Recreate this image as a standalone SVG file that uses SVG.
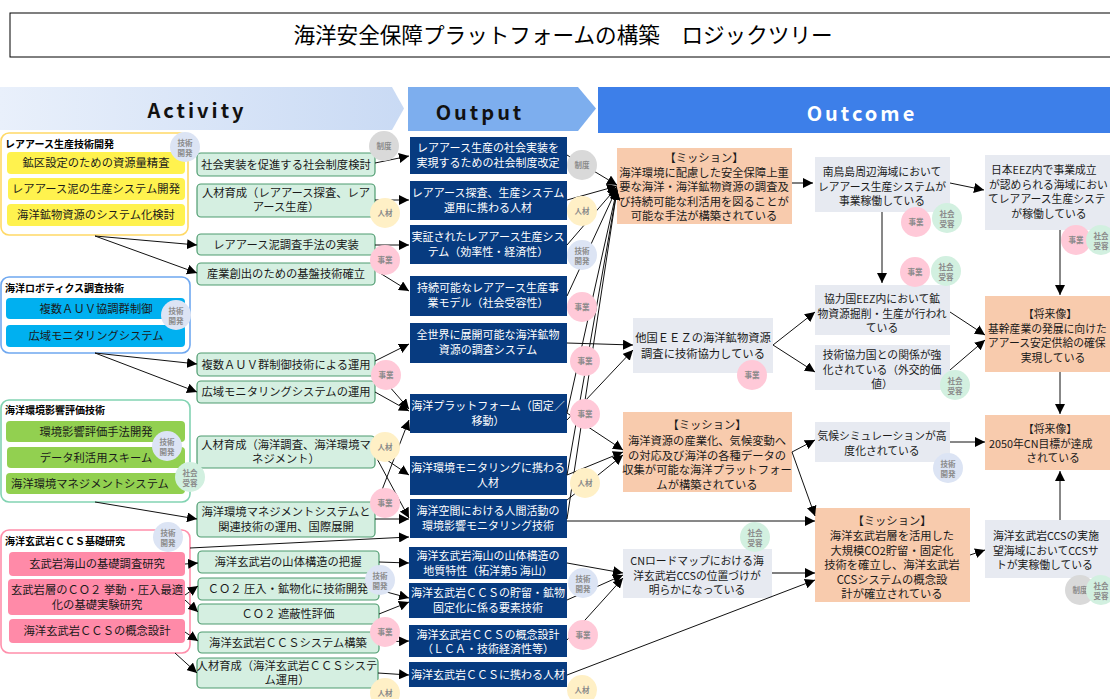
<svg xmlns="http://www.w3.org/2000/svg" width="1110" height="699" viewBox="0 0 1110 699">
<defs>
<marker id="ah" markerUnits="userSpaceOnUse" markerWidth="10" markerHeight="10" refX="10" refY="5" orient="auto"><path d="M0,0 L10,5 L0,10 z" fill="#000"/></marker>
<linearGradient id="gAct" x1="0" x2="1" y1="0" y2="0"><stop offset="0" stop-color="#E9F0FB"/><stop offset="1" stop-color="#C9DAF4"/></linearGradient>
</defs>
<style>
text{font-family:"Noto Sans CJK JP","Noto Sans",sans-serif;}
.t{font-size:11.3px;fill:#1a1a1a;text-anchor:middle}
.r{font-size:10.8px;fill:#1a1a1a;text-anchor:middle}
.rl{font-size:10.8px;fill:#1a1a1a;text-anchor:start}
.w{font-size:11px;fill:#fff;text-anchor:middle}
.gt{font-size:10px;font-weight:bold;fill:#000}
.bt{font-size:7.5px;font-weight:bold;fill:#8a8a8a;text-anchor:middle}
.grp{fill:#fff;stroke-width:1.6}
.mid{fill:#D5EFE1;stroke:#4F9C70;stroke-width:1.2}
.out{fill:#073B80}
.mis{fill:#F8CBAD}
.gry{fill:#E7EAF1}
.c{fill:none;stroke:#111;stroke-width:1;marker-end:url(#ah)}
.cg{fill:none;stroke:#7f7f7f;stroke-width:2;marker-end:url(#ah)}
.b1{fill:#DCE4F4}.b2{fill:#D9D9D9}.b3{fill:#FFF0C6}.b4{fill:#FFC9D8}.b5{fill:#D2F0E0}
</style>
<rect width="1110" height="699" fill="#fff"/>
<g id="title">
<rect x="10" y="13" width="1110" height="44" fill="#fff" stroke="#000" stroke-width="1"/>
<text x="563" y="43" style="font-size:21.6px;text-anchor:middle;fill:#000">海洋安全保障プラットフォームの構築　ロジックツリー</text>
</g>
<g id="headers">
<polygon points="0,87 392,87 404,108.5 392,130 0,130" fill="url(#gAct)"/>
<text x="197" y="118" style="font-size:20px;font-weight:bold;letter-spacing:3px;text-anchor:middle;fill:#111">Activity</text>
<polygon points="408,87 578,87 596,108.5 578,131 408,131" fill="#7DAEEE"/>
<text x="480" y="120" style="font-size:20px;font-weight:bold;letter-spacing:3px;text-anchor:middle;fill:#111">Output</text>
<rect x="598" y="87" width="512" height="46" fill="#3D7FE9"/>
<text x="862" y="121" style="font-size:20px;font-weight:bold;letter-spacing:3px;text-anchor:middle;fill:#fff">Outcome</text>
</g>
<g id="grp1">
<rect class="grp" x="1" y="133" width="187" height="102" rx="8" stroke="#FFD966"/>
<text class="gt" x="5" y="148">レアアース生産技術開発</text>
<rect x="7" y="152" width="178" height="22" rx="4" fill="#FFF24E"/>
<text class="t" x="96" y="167">鉱区設定のための資源量精査</text>
<rect x="8" y="178" width="177" height="22" rx="4" fill="#FFF24E"/>
<text class="t" x="96" y="193">レアアース泥の生産システム開発</text>
<rect x="7" y="204" width="178" height="22" rx="4" fill="#FFF24E"/>
<text class="t" x="96" y="219">海洋鉱物資源のシステム化検討</text>
</g>
<g id="grp2">
<rect class="grp" x="1" y="277" width="189" height="76" rx="8" stroke="#6FA8F0"/>
<text class="gt" x="5" y="292">海洋ロボティクス調査技術</text>
<rect x="6" y="298" width="179" height="21" rx="4" fill="#00B0F0"/>
<text class="t" x="96" y="313">複数ＡＵＶ協調群制御</text>
<rect x="6" y="325" width="179" height="22" rx="4" fill="#00B0F0"/>
<text class="t" x="96" y="340">広域モニタリングシステム</text>
</g>
<g id="grp3">
<rect class="grp" x="1" y="400" width="189" height="102" rx="8" stroke="#82D3B2"/>
<text class="gt" x="5" y="414">海洋環境影響評価技術</text>
<rect x="6" y="421" width="179" height="21" rx="4" fill="#92D050"/>
<text class="t" x="96" y="436">環境影響評価手法開発</text>
<rect x="7" y="447" width="178" height="21" rx="4" fill="#92D050"/>
<text class="t" x="96" y="462">データ利活用スキーム</text>
<rect x="6" y="473" width="179" height="21" rx="4" fill="#92D050"/>
<text class="t" x="90" y="488">海洋環境マネジメントシステム</text>
</g>
<g id="grp4">
<rect class="grp" x="1" y="530" width="189" height="123" rx="8" stroke="#FF8FAB"/>
<text class="gt" x="5" y="545">海洋玄武岩ＣＣＳ基礎研究</text>
<rect x="9" y="552" width="176" height="24" rx="4" fill="#FF8AA8"/>
<text class="t" x="97" y="568">玄武岩海山の基礎調査研究</text>
<rect x="8" y="579" width="177" height="36" rx="4" fill="#FF8AA8"/>
<text class="t" x="97" y="594">玄武岩層のＣＯ２ 挙動・圧入最適</text>
<text class="t" x="97" y="609">化の基礎実験研究</text>
<rect x="9" y="619" width="176" height="24" rx="4" fill="#FF8AA8"/>
<text class="t" x="97" y="635">海洋玄武岩ＣＣＳの概念設計</text>
</g>
<g id="activities">
<rect class="mid" x="197" y="153" width="178" height="23" rx="4"/>
<text class="t" x="286" y="169">社会実装を促進する社会制度検討</text>
<rect class="mid" x="197" y="184" width="178" height="33" rx="4"/>
<text class="t" x="286" y="197">人材育成（レアアース探査、レア</text>
<text class="t" x="286" y="211">アース生産）</text>
<rect class="mid" x="197" y="234" width="178" height="21" rx="4"/>
<text class="t" x="286" y="249">レアアース泥調査手法の実装</text>
<rect class="mid" x="197" y="263" width="178" height="22" rx="4"/>
<text class="t" x="286" y="278">産業創出のための基盤技術確立</text>
<rect class="mid" x="197" y="353" width="178" height="23" rx="4"/>
<text class="t" x="286" y="369">複数ＡＵＶ群制御技術による運用</text>
<rect class="mid" x="197" y="381" width="178" height="22" rx="4"/>
<text class="t" x="286" y="396">広域モニタリングシステムの運用</text>
<rect class="mid" x="197" y="436" width="178" height="32" rx="4"/>
<text class="t" x="286" y="449">人材育成（海洋調査、海洋環境マ</text>
<text class="t" x="286" y="463">ネジメント）</text>
<rect class="mid" x="197" y="502" width="178" height="35" rx="4"/>
<text class="t" x="286" y="516">海洋環境マネジメントシステムと</text>
<text class="t" x="286" y="531">関連技術の運用、国際展開</text>
<rect class="mid" x="198" y="551" width="181" height="22" rx="4"/>
<text class="t" x="288" y="566">海洋玄武岩の山体構造の把握</text>
<rect class="mid" x="198" y="578" width="181" height="22" rx="4"/>
<text class="t" x="288" y="593">ＣＯ２ 圧入・鉱物化に技術開発</text>
<rect class="mid" x="198" y="604" width="181" height="20" rx="4"/>
<text class="t" x="288" y="618">ＣＯ２ 遮蔽性評価</text>
<rect class="mid" x="198" y="632" width="181" height="21" rx="4"/>
<text class="t" x="288" y="647">海洋玄武岩ＣＣＳシステム構築</text>
<rect class="mid" x="197" y="658" width="181" height="30" rx="4"/>
<text class="t" x="287" y="670">人材育成（海洋玄武岩ＣＣＳシステ</text>
<text class="t" x="287" y="684">ム運用）</text>
</g>
<g id="outputs">
<rect class="out" x="410" y="137" width="157" height="37"/>
<text class="w" x="488" y="152">レアアース生産の社会実装を</text>
<text class="w" x="488" y="167">実現するための社会制度改定</text>
<rect class="out" x="410" y="181" width="157" height="39"/>
<text class="w" x="488" y="197">レアアース探査、生産システム</text>
<text class="w" x="488" y="212">運用に携わる人材</text>
<rect class="out" x="410" y="225" width="157" height="39"/>
<text class="w" x="488" y="241">実証されたレアアース生産シス</text>
<text class="w" x="488" y="256">テム（効率性・経済性）</text>
<rect class="out" x="410" y="276" width="157" height="40"/>
<text class="w" x="488" y="292">持続可能なレアアース生産事</text>
<text class="w" x="488" y="307">業モデル（社会受容性）</text>
<rect class="out" x="410" y="323" width="157" height="40"/>
<text class="w" x="488" y="339">全世界に展開可能な海洋鉱物</text>
<text class="w" x="488" y="354">資源の調査システム</text>
<rect class="out" x="410" y="394" width="157" height="39"/>
<text class="w" x="488" y="410">海洋プラットフォーム（固定／</text>
<text class="w" x="488" y="425">移動）</text>
<rect class="out" x="410" y="456" width="157" height="39"/>
<text class="w" x="488" y="472">海洋環境モニタリングに携わる</text>
<text class="w" x="488" y="487">人材</text>
<rect class="out" x="410" y="499" width="157" height="39"/>
<text class="w" x="488" y="515">海洋空間における人間活動の</text>
<text class="w" x="488" y="530">環境影響モニタリング技術</text>
<rect class="out" x="409" y="547" width="158" height="32"/>
<text class="w" x="488" y="560">海洋玄武岩海山の山体構造の</text>
<text class="w" x="488" y="575">地質特性（拓洋第5 海山）</text>
<rect class="out" x="409" y="583" width="158" height="35"/>
<text class="w" x="488" y="597">海洋玄武岩ＣＣＳの貯留・鉱物</text>
<text class="w" x="488" y="612">固定化に係る要素技術</text>
<rect class="out" x="409" y="625" width="158" height="32"/>
<text class="w" x="488" y="639">海洋玄武岩ＣＣＳの概念設計</text>
<text class="w" x="488" y="653">（ＬＣＡ・技術経済性等）</text>
<rect class="out" x="409" y="662" width="158" height="25"/>
<text class="w" x="488" y="679">海洋玄武岩ＣＣＳに携わる人材</text>
</g>
<g id="outcomes">
<rect class="mis" x="617" y="148" width="175" height="76"/>
<text class="t" x="704" y="162">【ミッション】</text>
<text class="t" x="704" y="176.5">海洋環境に配慮した安全保障上重</text>
<text class="t" x="704" y="191">要な海洋・海洋鉱物資源の調査及</text>
<text class="t" x="704" y="205.5">び持続可能な利活用を図ることが</text>
<text class="t" x="704" y="220">可能な手法が構築されている</text>
<rect class="gry" x="633" y="318" width="140" height="55"/>
<text class="t" x="703" y="342">他国ＥＥＺの海洋鉱物資源</text>
<text class="t" x="703" y="358">調査に技術協力している</text>
<rect class="mis" x="623" y="412" width="169" height="80"/>
<text class="t" x="707" y="429">【ミッション】</text>
<text class="t" x="707" y="445">海洋資源の産業化、気候変動へ</text>
<text class="t" x="707" y="459.5">の対応及び海洋の各種データの</text>
<text class="t" x="707" y="474">収集が可能な海洋プラットフォー</text>
<text class="t" x="707" y="488.5">ムが構築されている</text>
<rect class="gry" x="623" y="549" width="149" height="49"/>
<text class="r" x="697" y="565">CNロードマップにおける海</text>
<text class="r" x="697" y="579.5">洋玄武岩CCSの位置づけが</text>
<text class="r" x="697" y="594">明らかになっている</text>
<rect class="gry" x="815" y="157" width="135" height="55"/>
<text class="r" x="882" y="176">南鳥島周辺海域において</text>
<text class="r" x="882" y="190.5">レアアース生産システムが</text>
<text class="r" x="882" y="205">事業稼働している</text>
<rect class="gry" x="985" y="155" width="140" height="75"/>
<text class="rl" x="991" y="174">日本EEZ内で事業成立</text>
<text class="rl" x="989" y="188.5">が認められる海域におい</text>
<text class="rl" x="988" y="203">てレアアース生産システ</text>
<text class="r" x="1049" y="217.5">が稼働している</text>
<rect class="gry" x="815" y="285" width="135" height="50"/>
<text class="r" x="882" y="303">協力国EEZ内において鉱</text>
<text class="r" x="882" y="317.5">物資源掘削・生産が行われ</text>
<text class="r" x="882" y="332">ている</text>
<rect class="gry" x="815" y="345" width="135" height="45"/>
<text class="r" x="882" y="359">技術協力国との関係が強</text>
<text class="r" x="882" y="373.5">化されている（外交的価</text>
<text class="r" x="882" y="388">値）</text>
<rect class="mis" x="985" y="296" width="140" height="76"/>
<text class="r" x="1050" y="318">【将来像】</text>
<text class="rl" x="988" y="332.5">基幹産業の発展に向けた</text>
<text class="rl" x="988" y="347">アアース安定供給の確保</text>
<text class="r" x="1053" y="361.5">実現している</text>
<rect class="gry" x="815" y="422" width="135" height="40"/>
<text class="r" x="882" y="440">気候シミュレーションが高</text>
<text class="r" x="882" y="455">度化されている</text>
<rect class="mis" x="985" y="415" width="140" height="55"/>
<text class="r" x="1050" y="433">【将来像】</text>
<text class="rl" x="989" y="447.5">2050年CN目標が達成</text>
<text class="r" x="1053" y="462">されている</text>
<rect class="mis" x="815" y="508" width="155" height="94"/>
<text class="t" x="892" y="525">【ミッション】</text>
<text class="t" x="892" y="540">海洋玄武岩層を活用した</text>
<text class="t" x="892" y="554.5">大規模CO2貯留・固定化</text>
<text class="t" x="892" y="569">技術を確立し、海洋玄武岩</text>
<text class="t" x="892" y="583.5">CCSシステムの概念設</text>
<text class="t" x="892" y="598">計が確立されている</text>
<rect class="gry" x="985" y="520" width="140" height="58"/>
<text class="rl" x="993" y="540">海洋玄武岩CCSの実施</text>
<text class="rl" x="993" y="554.5">望海域においてCCSサ</text>
<text class="rl" x="996" y="569">トが実稼働している</text>
</g>
<g id="connectors">
<path class="c" d="M95,236 L197,245"/>
<path class="c" d="M95,236 L197,273"/>
<path class="c" d="M95,353 L197,364"/>
<path class="c" d="M95,353 L197,392"/>
<path class="c" d="M95,502 L197,519"/>
<path class="c" d="M185,564 L198,563"/>
<path class="c" d="M185,595 L198,586"/>
<path class="c" d="M185,600 L198,612"/>
<path class="c" d="M185,632 L198,641"/>
<path class="c" d="M175,653 L197,673"/>
<path class="c" d="M190,548 L409,537"/>
<path class="c" d="M375,163 L409,156"/>
<path class="c" d="M375,200 L409,200"/>
<path class="c" d="M375,245 L409,245"/>
<path class="c" d="M375,270 L409,291"/>
<path class="c" d="M375,361 L409,344"/>
<path class="c" d="M375,370 L409,409"/>
<path class="c" d="M375,392 L409,411"/>
<path class="c" d="M375,508 L409,420"/>
<path class="c" d="M375,452 L409,475"/>
<path class="c" d="M375,455 L409,518"/>
<path class="c" d="M375,519 L409,519"/>
<path class="c" d="M379,562 L409,563"/>
<path class="c" d="M379,590 L409,598"/>
<path class="c" d="M379,614 L409,602"/>
<path class="c" d="M379,642 L409,641"/>
<path class="c" d="M378,673 L409,675"/>
<path class="c" d="M567,155 L617,185"/>
<path class="c" d="M567,200 L617,186"/>
<path class="c" d="M567,245 L617,187"/>
<path class="c" d="M567,296 L617,188"/>
<path class="c" d="M567,413 L617,189"/>
<path class="c" d="M567,475 L617,190"/>
<path class="c" d="M567,519 L617,190"/>
<path class="c" d="M567,343 L633,345"/>
<path class="c" d="M567,420 L633,350"/>
<path class="c" d="M567,413 L623,450"/>
<path class="c" d="M567,475 L623,452"/>
<path class="c" d="M567,500 L623,455"/>
<path class="c" d="M567,521 L815,521"/>
<path class="c" d="M567,563 L623,573"/>
<path class="c" d="M567,600 L623,575"/>
<path class="c" d="M567,640 L623,578"/>
<path class="c" d="M567,675 L815,580"/>
<path class="cg" d="M792,183 L813,183"/>
<path class="c" d="M950,183 L984,190"/>
<path class="c" d="M882,212 L882,283"/>
<path class="c" d="M1060,230 L1060,295"/>
<path class="c" d="M773,345 L815,312"/>
<path class="c" d="M773,345 L815,372"/>
<path class="c" d="M950,312 L985,335"/>
<path class="c" d="M950,370 L985,340"/>
<path class="c" d="M1060,372 L1060,414"/>
<path class="c" d="M792,452 L815,440"/>
<path class="c" d="M792,452 L815,516"/>
<path class="c" d="M950,442 L985,442"/>
<path class="cg" d="M772,573 L815,573"/>
<path class="c" d="M970,555 L985,550"/>
<path class="c" d="M1060,520 L1060,471"/>
</g>
<g id="badges">
<g transform="translate(185,147)"><circle r="15" class="b1"/><text class="bt" y="-1">技術</text><text class="bt" y="8.5">開発</text></g>
<g transform="translate(176,315)"><circle r="15" class="b1"/><text class="bt" y="-1">技術</text><text class="bt" y="8.5">開発</text></g>
<g transform="translate(167,446)"><circle r="15" class="b1"/><text class="bt" y="-1">技術</text><text class="bt" y="8.5">開発</text></g>
<g transform="translate(190,477)"><circle r="15" class="b5"/><text class="bt" y="-1">社会</text><text class="bt" y="8.5">受容</text></g>
<g transform="translate(168,537)"><circle r="15" class="b1"/><text class="bt" y="-1">技術</text><text class="bt" y="8.5">開発</text></g>
<g transform="translate(384,146)"><circle r="15" class="b2"/><text class="bt" y="3">制度</text></g>
<g transform="translate(385,213)"><circle r="15" class="b3"/><text class="bt" y="3">人材</text></g>
<g transform="translate(385,260)"><circle r="15" class="b4"/><text class="bt" y="3">事業</text></g>
<g transform="translate(386,375)"><circle r="15" class="b4"/><text class="bt" y="3">事業</text></g>
<g transform="translate(385,447)"><circle r="15" class="b3"/><text class="bt" y="3">人材</text></g>
<g transform="translate(385,503)"><circle r="15" class="b4"/><text class="bt" y="3">事業</text></g>
<g transform="translate(380,580)"><circle r="15" class="b1"/><text class="bt" y="-1">技術</text><text class="bt" y="8.5">開発</text></g>
<g transform="translate(385,632)"><circle r="15" class="b4"/><text class="bt" y="3">事業</text></g>
<g transform="translate(385,693)"><circle r="15" class="b3"/><text class="bt" y="3">人材</text></g>
<g transform="translate(582,165)"><circle r="15" class="b2"/><text class="bt" y="3">制度</text></g>
<g transform="translate(582,211)"><circle r="15" class="b3"/><text class="bt" y="3">人材</text></g>
<g transform="translate(582,255)"><circle r="15" class="b1"/><text class="bt" y="-1">技術</text><text class="bt" y="8.5">開発</text></g>
<g transform="translate(582,307)"><circle r="15" class="b4"/><text class="bt" y="3">事業</text></g>
<g transform="translate(585,361)"><circle r="15" class="b4"/><text class="bt" y="3">事業</text></g>
<g transform="translate(585,414)"><circle r="15" class="b4"/><text class="bt" y="3">事業</text></g>
<g transform="translate(585,483)"><circle r="15" class="b3"/><text class="bt" y="3">人材</text></g>
<g transform="translate(583,583)"><circle r="15" class="b1"/><text class="bt" y="-1">技術</text><text class="bt" y="8.5">開発</text></g>
<g transform="translate(583,635)"><circle r="15" class="b4"/><text class="bt" y="3">事業</text></g>
<g transform="translate(582,690)"><circle r="15" class="b3"/><text class="bt" y="3">人材</text></g>
<g transform="translate(752,375)"><circle r="15" class="b4"/><text class="bt" y="3">事業</text></g>
<g transform="translate(755,537)"><circle r="15" class="b5"/><text class="bt" y="-1">社会</text><text class="bt" y="8.5">受容</text></g>
<g transform="translate(916,222)"><circle r="15" class="b4"/><text class="bt" y="3">事業</text></g>
<g transform="translate(947,218)"><circle r="15" class="b5"/><text class="bt" y="-1">社会</text><text class="bt" y="8.5">受容</text></g>
<g transform="translate(1076,240)"><circle r="15" class="b4"/><text class="bt" y="3">事業</text></g>
<g transform="translate(1101,240)"><circle r="15" class="b5"/><text class="bt" y="-1">社会</text><text class="bt" y="8.5">受容</text></g>
<g transform="translate(915,272)"><circle r="15" class="b4"/><text class="bt" y="3">事業</text></g>
<g transform="translate(946,271)"><circle r="15" class="b5"/><text class="bt" y="-1">社会</text><text class="bt" y="8.5">受容</text></g>
<g transform="translate(955,385)"><circle r="15" class="b5"/><text class="bt" y="-1">社会</text><text class="bt" y="8.5">受容</text></g>
<g transform="translate(948,468)"><circle r="15" class="b1"/><text class="bt" y="-1">技術</text><text class="bt" y="8.5">開発</text></g>
<g transform="translate(1080,590)"><circle r="15" class="b2"/><text class="bt" y="3">制度</text></g>
<g transform="translate(1101,590)"><circle r="15" class="b5"/><text class="bt" y="-1">社会</text><text class="bt" y="8.5">受容</text></g>
</g>
</svg>
